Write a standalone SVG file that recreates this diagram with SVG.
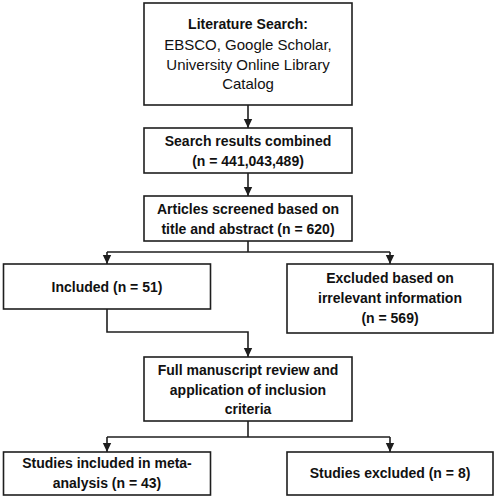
<svg xmlns="http://www.w3.org/2000/svg" width="497" height="500" viewBox="0 0 497 500">
<defs>
<style>
.box{fill:#fff;stroke:#1e1e1e;stroke-width:1.6}
.ln{fill:none;stroke:#1e1e1e;stroke-width:1.6}
text{font-family:"Liberation Sans",Arial,sans-serif;fill:#111;text-anchor:middle}
.b{font-weight:bold;font-size:14px}
.r{font-size:15px}
</style>
<marker id="ah" markerUnits="userSpaceOnUse" markerWidth="10" markerHeight="10" refX="9" refY="5" orient="auto">
<path d="M0,0.8 L9,5 L0,9.2 Z" fill="#1e1e1e"/>
</marker>
</defs>
<rect width="497" height="500" fill="#fff"/>
<g id="connectors">
<line class="ln" x1="248" y1="105" x2="248" y2="128" marker-end="url(#ah)"/>
<line class="ln" x1="248" y1="173" x2="248" y2="196" marker-end="url(#ah)"/>
<line class="ln" x1="248" y1="241" x2="248" y2="252"/>
<line class="ln" x1="107" y1="252" x2="390" y2="252"/>
<line class="ln" x1="107" y1="252" x2="107" y2="264" marker-end="url(#ah)"/>
<line class="ln" x1="390" y1="252" x2="390" y2="264" marker-end="url(#ah)"/>
<polyline class="ln" points="107,309 107,332 248,332 248,357" marker-end="url(#ah)"/>
<line class="ln" x1="248" y1="421" x2="248" y2="437"/>
<line class="ln" x1="107" y1="437" x2="390" y2="437"/>
<line class="ln" x1="107" y1="437" x2="107" y2="452" marker-end="url(#ah)"/>
<line class="ln" x1="390" y1="437" x2="390" y2="452" marker-end="url(#ah)"/>
</g>
<g id="n1">
<rect class="box" x="144" y="3" width="208" height="102"/>
<text class="b" x="248" y="29">Literature Search:</text>
<text class="r" x="248" y="50">EBSCO, Google Scholar,</text>
<text class="r" x="248" y="70">University Online Library</text>
<text class="r" x="248" y="89">Catalog</text>
</g>
<g id="n2">
<rect class="box" x="144" y="128" width="208" height="45"/>
<text class="b" x="248" y="146">Search results combined</text>
<text class="b" x="248" y="166">(n = 441,043,489)</text>
</g>
<g id="n3">
<rect class="box" x="144" y="196" width="208" height="45"/>
<text class="b" x="248" y="214">Articles screened based on</text>
<text class="b" x="248" y="234">title and abstract (n = 620)</text>
</g>
<g id="n4">
<rect class="box" x="3.5" y="264" width="207" height="45"/>
<text class="b" x="107" y="292">Included (n = 51)</text>
</g>
<g id="n5">
<rect class="box" x="287" y="264" width="206" height="69"/>
<text class="b" x="390" y="283">Excluded based on</text>
<text class="b" x="390" y="303">irrelevant information</text>
<text class="b" x="390" y="323">(n = 569)</text>
</g>
<g id="n6">
<rect class="box" x="144" y="357" width="208" height="64"/>
<text class="b" x="248" y="375">Full manuscript review and</text>
<text class="b" x="248" y="395">application of inclusion</text>
<text class="b" x="248" y="414">criteria</text>
</g>
<g id="n7">
<rect class="box" x="3.5" y="452" width="207" height="43"/>
<text class="b" x="107" y="468">Studies included in meta-</text>
<text class="b" x="107" y="488">analysis (n = 43)</text>
</g>
<g id="n8">
<rect class="box" x="287" y="452" width="206" height="43"/>
<text class="b" x="390" y="478">Studies excluded (n = 8)</text>
</g>
</svg>
